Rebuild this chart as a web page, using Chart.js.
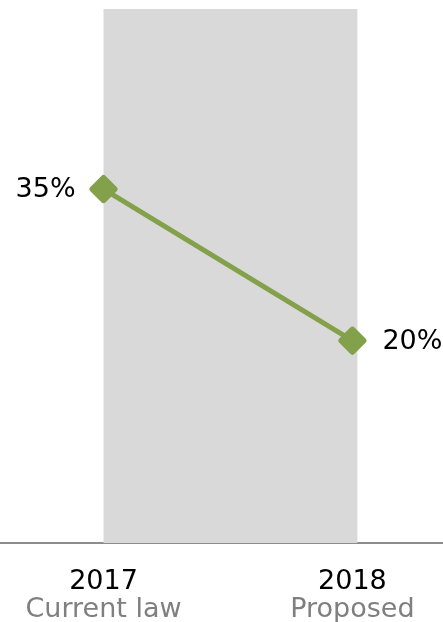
<!DOCTYPE html>
<html>
<head>
<meta charset="utf-8">
<script src="https://cdn.jsdelivr.net/npm/chart.js@4/dist/chart.umd.min.js"></script>
<style>
  html, body { margin: 0; padding: 0; background: #fff; }
  #wrap { width: 443px; height: 622px; position: relative; }
</style>
</head>
<body>
<div id="wrap"><canvas id="grafico"></canvas></div>
<script>
// datos del grafico
const years = [2017, 2018];
const subLabels = ["Current law", "Proposed"];
const rates = [35, 20];
const rateLabels = ["35%", "20%"];
const shadedRange = [2017, 2018.02]; // franja gris entre los dos años

const FONT = "'DejaVu Sans', Verdana, sans-serif";
const GREEN = "#83a04a";
const X_MIN = 2016.584;
const X_MAX = 2018.364;

// franja gris detras de la linea
const bandPlugin = {
  id: "band",
  beforeDatasetsDraw(chart) {
    const { ctx, chartArea, scales } = chart;
    const x0 = scales.x.getPixelForValue(shadedRange[0]);
    const x1 = scales.x.getPixelForValue(shadedRange[1]);
    ctx.save();
    ctx.fillStyle = "#d9d9d9";
    ctx.fillRect(x0, chartArea.top, x1 - x0, chartArea.bottom - chartArea.top);
    ctx.restore();
    ctx.lineJoin = "round"; // esquinas redondeadas en los rombos
  }
};

// etiquetas de porcentaje junto a cada punto
const valueLabels = {
  id: "valueLabels",
  afterDatasetsDraw(chart) {
    const { ctx } = chart;
    const pts = chart.getDatasetMeta(0).data;
    ctx.save();
    ctx.font = "27px " + FONT;
    ctx.fillStyle = "#000";
    ctx.textBaseline = "middle";
    pts.forEach((p, i) => {
      if (i === 0) {
        ctx.textAlign = "right";
        ctx.fillText(rateLabels[i], p.x - 28, p.y + 1);
      } else {
        ctx.textAlign = "left";
        ctx.fillText(rateLabels[i], p.x + 30, p.y + 1);
      }
    });
    ctx.restore();
  }
};

const ctx = document.getElementById("grafico").getContext("2d");

new Chart(ctx, {
  type: "line",
  data: {
    datasets: [{
      data: years.map((y, i) => ({ x: y, y: rates[i] })),
      borderColor: GREEN,
      backgroundColor: GREEN,
      borderWidth: 5,
      pointStyle: "rectRot",
      pointRadius: 11,
      pointBorderWidth: 6,
      pointBorderColor: GREEN,
      pointBackgroundColor: GREEN,
      fill: false,
      tension: 0,
      clip: false
    }]
  },
  options: {
    responsive: true,
    maintainAspectRatio: false,
    animation: false,
    layout: { autoPadding: false, padding: { top: 9, left: 0, right: 0, bottom: 0 } },
    plugins: {
      legend: { display: false },
      tooltip: { enabled: false }
    },
    scales: {
      x: {
        type: "linear",
        position: "bottom",
        min: X_MIN,
        max: X_MAX,
        afterBuildTicks: axis => { axis.ticks = years.map(v => ({ value: v })); },
        afterFit: axis => { axis.height = 56; axis.paddingLeft = 0; axis.paddingRight = 0; },
        grid: { display: false, drawTicks: false },
        border: { display: true, color: "#8c8c8c", width: 2 },
        ticks: {
          autoSkip: false,
          maxRotation: 0,
          padding: 23,
          color: "#000",
          font: { family: FONT, size: 27 },
          callback: v => String(v)
        }
      },
      xSub: {
        type: "linear",
        position: "bottom",
        min: X_MIN,
        max: X_MAX,
        afterBuildTicks: axis => { axis.ticks = years.map(v => ({ value: v })); },
        afterFit: axis => { axis.height = 23; axis.paddingLeft = 0; axis.paddingRight = 0; },
        grid: { display: false, drawTicks: false },
        border: { display: false },
        ticks: {
          autoSkip: false,
          maxRotation: 0,
          mirror: true,
          padding: -27.4,
          color: "#7f7f7f",
          font: { family: FONT, size: 27 },
          callback: (v, i) => subLabels[i]
        }
      },
      y: {
        display: false,
        min: 0,
        max: 52.8
      }
    }
  },
  plugins: [bandPlugin, valueLabels]
});
</script>
</body>
</html>
